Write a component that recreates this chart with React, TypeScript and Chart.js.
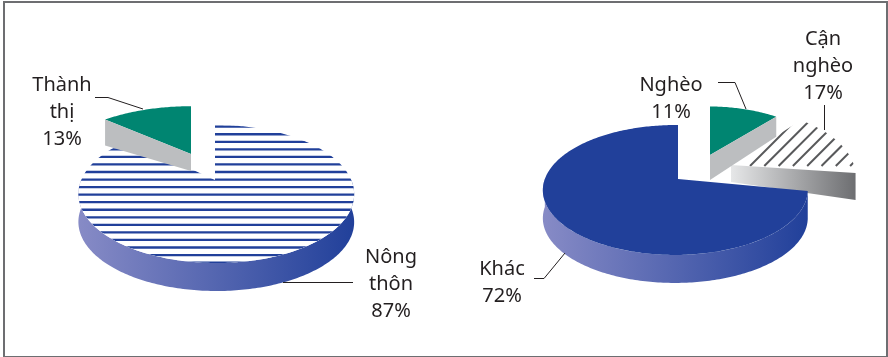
import React, { useEffect, useRef } from "react";
import { Chart, registerables } from "chart.js";

Chart.register(...registerables);

// Household share by area
const areaCategories = ["Nông thôn", "Thành thị"];
const areaValues = [87, 13];

// Household share by income status
const incomeCategories = ["Nghèo", "Cận nghèo", "Khác"];
const incomeValues = [11, 17, 72];

const BLUE = "#21409a";
const GREEN = "#008571";
const GREY_WALL = "#bcbec0";
const HATCH = "#58595b";
const INK = "#231f20";
const FONT = "20px 'Noto Sans', sans-serif";

type Face = "solid" | "stripes" | "hatch";
interface SliceLook {
  face: Face;
  color: string;
  layer: number;
  dx: number;
  dy: number;
  sx: number;
  sy: number;
  rimDepth?: number;
  rimStops?: [string, string];
  edge?: "start" | "end";
  edgeDepthApex?: number;
  edgeDepthRim?: number;
  edgeLift?: number;
  edgeStops?: [string, string];
}
interface Callout {
  x: number;
  y: number;
  line: [number, number][];
}
interface Tilt {
  k: number;
  m: number;
  squash: number;
}

const rimBlue: [string, string] = ["#878bc6", BLUE];

const areaLooks: SliceLook[] = [
  { face: "stripes", color: BLUE, layer: 0, dx: 0, dy: 0, sx: 1, sy: 1, rimDepth: 28, rimStops: rimBlue },
  {
    face: "solid", color: GREEN, layer: 1, dx: -24, dy: -26, sx: 1, sy: 0.87,
    edge: "start", edgeDepthApex: 17, edgeDepthRim: 26, edgeStops: [GREY_WALL, GREY_WALL],
  },
];
const incomeLooks: SliceLook[] = [
  {
    face: "solid", color: GREEN, layer: 1, dx: 32, dy: -24, sx: 0.91, sy: 0.9,
    edge: "end", edgeDepthApex: 25, edgeDepthRim: 20, edgeStops: [GREY_WALL, GREY_WALL],
  },
  {
    face: "hatch", color: HATCH, layer: 0, dx: 53, dy: -14, sx: 0.96, sy: 1.05,
    edge: "end", edgeDepthApex: 17, edgeDepthRim: 27, edgeLift: 4.5, edgeStops: ["#e6e7e8", "#6d6e71"],
  },
  { face: "solid", color: BLUE, layer: 2, dx: 0, dy: 0, sx: 1, sy: 1, rimDepth: 28, rimStops: rimBlue },
];

const areaCallouts: Callout[] = [
  { x: 391, y: 263, line: [[283, 282.5], [353, 282.5]] },
  { x: 62, y: 91, line: [[95, 97.5], [108, 97.5], [143, 109]] },
];
const incomeCallouts: Callout[] = [
  { x: 227, y: 91, line: [[274, 82.5], [291, 82.5], [302, 109]] },
  { x: 379, y: 45, line: [[380.5, 105], [380.5, 130]] },
  { x: 58, y: 275, line: [[90, 278.5], [100, 278.5], [121, 253]] },
];

const tiltedPie = {
  id: "tiltedPie",
  beforeDatasetsDraw(chart: any, _args: any, opts: any) {
    const ctx: CanvasRenderingContext2D = chart.ctx;
    const arcs: any[] = chart.getDatasetMeta(0).data;
    const tilt: Tilt = opts.tilt;
    const looks: SliceLook[] = opts.looks;

    const order = arcs.map((_, i) => i).sort((a, b) => looks[a].layer - looks[b].layer);

    for (const i of order) {
      const arc = arcs[i];
      const look = looks[i];
      const { x, y, outerRadius: R, startAngle, endAngle } = arc;

      // Perspective projection of a point of the pie's plane, radius fraction r
      const project = (a: number, r = 1): [number, number] => {
        const u = Math.cos(a) * r;
        const v = Math.sin(a) * r;
        const den = 1 - tilt.k * v - tilt.m * u;
        return [
          x + look.dx + (look.sx * R * u) / den,
          y + look.dy + (look.sy * R * tilt.squash * v) / den,
        ];
      };
      const rim = (from: number, to: number) => {
        const steps = Math.max(4, Math.ceil(Math.abs(to - from) * 60));
        const pts: [number, number][] = [];
        for (let s = 0; s <= steps; s++) pts.push(project(from + ((to - from) * s) / steps));
        return pts;
      };
      const trace = (pts: [number, number][]) => {
        ctx.beginPath();
        pts.forEach(([px, py], n) => (n ? ctx.lineTo(px, py) : ctx.moveTo(px, py)));
        ctx.closePath();
      };
      const apex = project(0, 0);
      const topFace = [apex, ...rim(startAngle, endAngle)];

      // Outer wall, front half only
      if (look.rimDepth) {
        const from = Math.max(startAngle, 0);
        const to = Math.min(endAngle, Math.PI);
        const edge = rim(from, to);
        const lower = edge.map(([px, py]) => [px, py + look.rimDepth!] as [number, number]).reverse();
        const xs = edge.map((p) => p[0]);
        const grad = ctx.createLinearGradient(Math.min(...xs), 0, Math.max(...xs), 0);
        grad.addColorStop(0, look.rimStops![0]);
        grad.addColorStop(1, look.rimStops![1]);
        ctx.fillStyle = grad;
        trace([...edge, ...lower]);
        ctx.fill();
      }

      // Top face
      ctx.save();
      trace(topFace);
      if (look.face === "solid") {
        ctx.fillStyle = look.color;
        ctx.fill();
      } else {
        ctx.fillStyle = "#ffffff";
        ctx.fill();
        ctx.clip();
        ctx.strokeStyle = look.color;
        if (look.face === "stripes") {
          ctx.lineWidth = 2.3;
          for (let sy = 126.7; sy < chart.height; sy += 7.55) {
            ctx.beginPath();
            ctx.moveTo(0, sy);
            ctx.lineTo(chart.width, sy);
            ctx.stroke();
          }
        } else {
          ctx.lineWidth = 2;
          for (let c = 306; c < chart.width; c += 14.3) {
            ctx.beginPath();
            ctx.moveTo(c, 166);
            ctx.lineTo(c + 100, 66);
            ctx.stroke();
          }
        }
      }
      ctx.restore();

      // Cut face along one radial edge, in front of the top face
      if (look.edge) {
        const p = project(look.edge === "start" ? startAngle : endAngle);
        const end: [number, number] = [p[0], p[1] - (look.edgeLift ?? 0)];
        const grad = ctx.createLinearGradient(Math.min(apex[0], end[0]), 0, Math.max(apex[0], end[0]), 0);
        grad.addColorStop(0, look.edgeStops![0]);
        grad.addColorStop(1, look.edgeStops![1]);
        ctx.fillStyle = grad;
        trace([
          apex,
          end,
          [end[0], end[1] + look.edgeDepthRim!],
          [apex[0], apex[1] + look.edgeDepthApex!],
        ]);
        ctx.fill();
      }
    }
    return false;
  },
  afterDraw(chart: any, _args: any, opts: any) {
    const ctx: CanvasRenderingContext2D = chart.ctx;
    const labels: string[] = chart.data.labels;
    const values: number[] = chart.data.datasets[0].data;
    const callouts: Callout[] = opts.callouts;
    ctx.save();
    labels.forEach((label, i) => {
      const c = callouts[i];
      ctx.strokeStyle = INK;
      ctx.lineWidth = 1;
      ctx.beginPath();
      c.line.forEach(([px, py], n) => (n ? ctx.lineTo(px, py) : ctx.moveTo(px, py)));
      ctx.stroke();

      ctx.fillStyle = INK;
      ctx.font = FONT;
      ctx.textAlign = "center";
      ctx.textBaseline = "alphabetic";
      [...label.split(" "), `${values[i]}%`].forEach((line, n) => {
        ctx.fillText(line, c.x, c.y + n * 27);
      });
    });
    ctx.restore();
  },
};

function makePie(
  canvas: HTMLCanvasElement,
  labels: string[],
  values: number[],
  looks: SliceLook[],
  callouts: Callout[],
  tilt: Tilt,
  padding: { left: number; right: number; top: number; bottom: number },
) {
  const config: any = {
    type: "pie",
    data: {
      labels,
      datasets: [{ data: values, backgroundColor: looks.map((l) => l.color), borderWidth: 0 }],
    },
    options: {
      animation: false,
      responsive: false,
      layout: { padding },
      plugins: {
        legend: { display: false },
        tooltip: { enabled: false },
        tiltedPie: { tilt, looks, callouts },
      },
    },
    plugins: [tiltedPie],
  };
  return new Chart(canvas, config);
}

export default function App() {
  const leftRef = useRef<HTMLCanvasElement>(null);
  const rightRef = useRef<HTMLCanvasElement>(null);

  useEffect(() => {
    const left = makePie(
      leftRef.current!, areaCategories, areaValues, areaLooks, areaCallouts,
      { k: 0.203, m: 0.009, squash: 0.49 },
      { left: 80, right: 94, top: 45, bottom: 42 },
    );
    const right = makePie(
      rightRef.current!, incomeCategories, incomeValues, incomeLooks, incomeCallouts,
      { k: 0.169, m: -0.02, squash: 0.4835 },
      { left: 103.5, right: 79.5, top: 48.5, bottom: 47.5 },
    );
    return () => {
      left.destroy();
      right.destroy();
    };
  }, []);

  const canvasStyle = (x: number): React.CSSProperties => ({
    position: "absolute",
    left: x,
    top: 0,
    width: 444,
    height: 357,
  });

  return (
    <div style={{ position: "fixed", left: 0, top: 0, width: 888, height: 357, background: "#fff", overflow: "hidden" }}>
      <div
        style={{
          position: "absolute",
          left: 3,
          top: 1,
          width: 881,
          height: 353,
          border: "2px solid #6d6e71",
        }}
      />
      <canvas ref={leftRef} width={444} height={357} style={canvasStyle(0)} />
      <canvas ref={rightRef} width={444} height={357} style={canvasStyle(444)} />
    </div>
  );
}
